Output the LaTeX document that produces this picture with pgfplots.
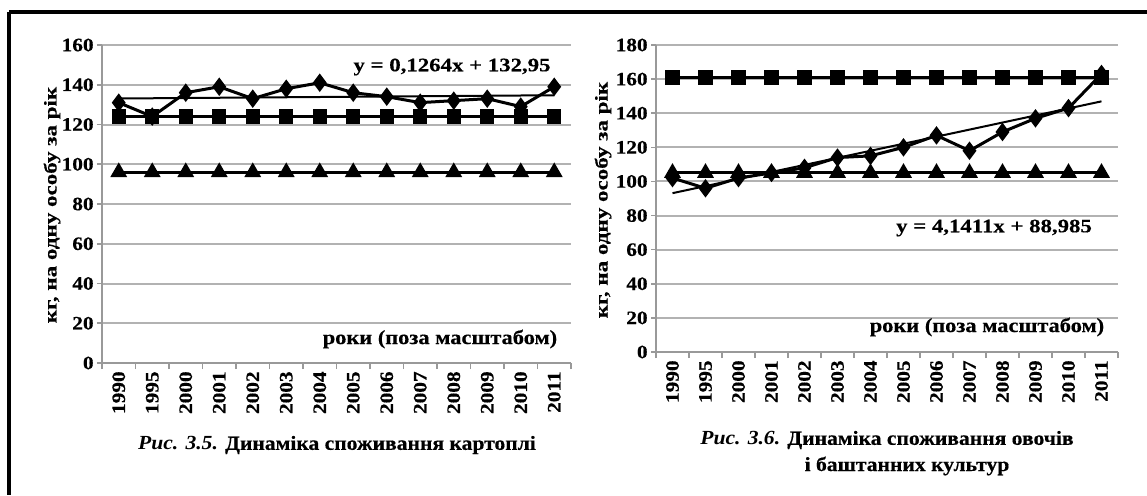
\documentclass[border=0pt]{standalone}
\usepackage{fontspec}
\setmainfont{Liberation Serif}[BoldFeatures={FakeBold=0.4}]
\newfontfamily\wide{Liberation Serif}[FakeStretch=1.12, BoldFeatures={FakeBold=0.4}]
\newfontfamily\wider{Liberation Serif}[FakeStretch=1.2, BoldFeatures={FakeBold=0.4}]
\newfontfamily\capf{Liberation Serif}[FakeStretch=1.08, BoldFeatures={FakeBold=0.4}]
\usepackage{pgfplots}
\pgfplotsset{compat=1.18}
\begin{document}
\begin{tikzpicture}
\path[use as bounding box] (0,0) rectangle (573.5pt,247.5pt);
\draw[line width=1.6pt] (4.5pt,241.5pt) -- (573.5pt,241.5pt);
\draw[line width=1.6pt] (4.5pt,241.5pt) -- (4.5pt,0pt);
\pgfplotsset{
  mystyle/.style={
    scale only axis,
    anchor=south west,
    xmin=-0.5, xmax=13.5,
    xtick={0,...,13},
    xticklabels={1990,1995,2000,2001,2002,2003,2004,2005,2006,2007,2008,2009,2010,2011},
    major x tick style={draw=none},
    minor xtick={-0.5,0.5,...,13.5},
    minor tick length=3pt,
    major tick length=2.5pt,
    tick align=outside,
    axis x line*=bottom,
    axis y line*=left,
    axis line style={draw=gray!80, line width=0.8pt},
    tick style={draw=gray!80, line width=0.8pt},
    ymajorgrids,
    grid style={draw=gray!60, line width=1pt},
    x tick label style={rotate=90, anchor=east, font=\wide\bfseries\fontsize{9.5}{10}\selectfont, inner sep=1.5pt},
    y tick label style={font=\wide\bfseries\fontsize{9.5}{10}\selectfont, inner sep=1.5pt},
    /pgf/number format/assume math mode=true,
    clip=false,
  },
  ser/.style={black, line width=1.5pt, mark size=2.8pt, mark options={solid, fill=black}},
}
% Left chart
\begin{axis}[mystyle, at={(51pt,66pt)}, width=234.5pt, height=159pt,
  ymin=0, ymax=160, ytick={0,20,...,160}]
\addplot[ser, mark=triangle*, mark size=3.4pt] coordinates {(0,96)(1,96)(2,96)(3,96)(4,96)(5,96)(6,96)(7,96)(8,96)(9,96)(10,96)(11,96)(12,96)(13,96)};
\addplot[ser, mark=square*, mark size=2.8pt] coordinates {(0,124)(1,124)(2,124)(3,124)(4,124)(5,124)(6,124)(7,124)(8,124)(9,124)(10,124)(11,124)(12,124)(13,124)};
\addplot[ser, mark=diamond*, mark size=3.4pt] coordinates {(0,131)(1,124)(2,136)(3,139)(4,133)(5,138)(6,141)(7,136)(8,134)(9,131)(10,132)(11,133)(12,129)(13,139)};
\addplot[black, line width=1pt] coordinates {(0,133.08)(13,134.72)};
\end{axis}
% Right chart
\begin{axis}[mystyle, at={(328pt,71.5pt)}, width=231pt, height=153.5pt,
  ymin=0, ymax=180, ytick={0,20,...,180}]
\addplot[ser, mark=triangle*, mark size=3.4pt] coordinates {(0,105)(1,105)(2,105)(3,105)(4,105)(5,105)(6,105)(7,105)(8,105)(9,105)(10,105)(11,105)(12,105)(13,105)};
\addplot[ser, mark=square*, mark size=2.8pt] coordinates {(0,161)(1,161)(2,161)(3,161)(4,161)(5,161)(6,161)(7,161)(8,161)(9,161)(10,161)(11,161)(12,161)(13,161)};
\addplot[ser, mark=diamond*, mark size=3.4pt] coordinates {(0,102)(1,96)(2,102)(3,105)(4,108)(5,114)(6,115)(7,120)(8,127)(9,118)(10,129)(11,137)(12,143)(13,163)};
\addplot[black, line width=1pt] coordinates {(0,93.13)(13,146.96)};
\end{axis}
% Texts
\node[font=\wider\bfseries\fontsize{9.5}{10}\selectfont] at (226pt,214pt) {y = 0,1264x + 132,95};
\node[font=\wider\bfseries\fontsize{9.5}{10}\selectfont] at (497pt,133.5pt) {y = 4,1411x + 88,985};
\node[font=\wide\bfseries\fontsize{10}{10}\selectfont] at (220pt,78pt) {роки (поза масштабом)};
\node[font=\wide\bfseries\fontsize{10}{10}\selectfont] at (493.5pt,84pt) {роки (поза масштабом)};
\node[rotate=90, font=\bfseries\fontsize{9}{10}\selectfont] at (26pt,145pt) {\scalebox{1.28}[1]{кг, на одну особу за рік}};
\node[rotate=90, font=\bfseries\fontsize{9}{10}\selectfont] at (301.5pt,147.5pt) {\scalebox{1.28}[1]{кг, на одну особу за рік}};
\node[font=\capf\bfseries\fontsize{10}{12}\selectfont] at (168.5pt,25pt) {\textit{Рис. 3.5.} Динаміка споживання картоплі};
\node[font=\capf\bfseries\fontsize{10}{12}\selectfont] at (443.5pt,27.5pt) {\textit{Рис. 3.6.} Динаміка споживання овочів};
\node[font=\capf\bfseries\fontsize{10}{12}\selectfont] at (453.5pt,14.5pt) {і баштанних культур};
\end{tikzpicture}
\end{document}
